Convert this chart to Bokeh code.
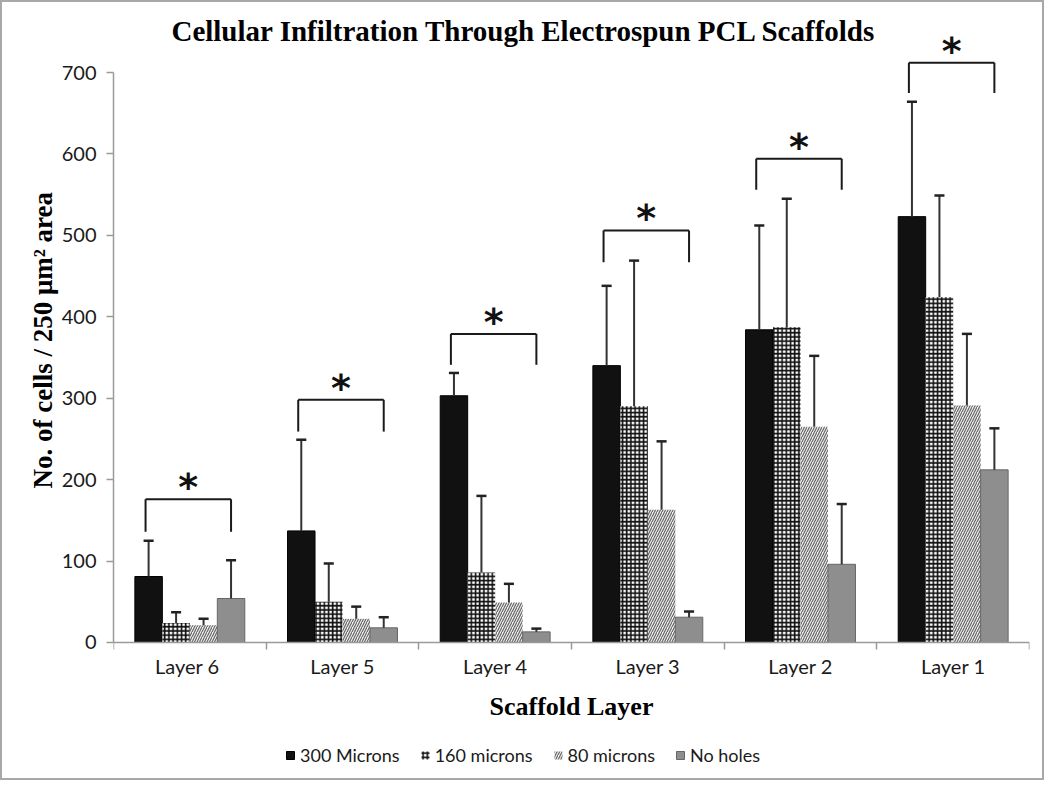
from bokeh.plotting import figure
from bokeh.models import FixedTicker, Legend, LegendItem, ColumnDataSource, Title
from bokeh.core.properties import value
from bokeh.embed import file_html
from bokeh.resources import INLINE

# ---------------- data ----------------
layers = ["Layer  6", "Layer 5", "Layer 4", "Layer 3", "Layer 2", "Layer 1"]
series = ["300 Microns", "160 microns", "80 microns", "No holes"]

mean_300 = [81, 137, 303, 340, 384, 523]
sd_300 = [44, 112, 28, 98, 128, 141]
mean_160 = [24, 50, 86, 290, 387, 424]
sd_160 = [13, 47, 94, 179, 158, 125]
mean_80 = [21, 29, 49, 163, 265, 291]
sd_80 = [8, 15, 23, 84, 87, 88]
mean_nh = [54, 18, 13, 31, 96, 212]
sd_nh = [47, 13, 4, 7, 74, 51]

bracket_top = [176, 298, 379, 506, 594, 712]
bracket_leg = [136, 259, 341, 467, 556, 675]
star_text = ["*", "*", "*", "*", "*", "*"]

y_ticks = [0, 100, 200, 300, 400, 500, 600, 700]

title_text = "Cellular Infiltration Through Electrospun PCL Scaffolds"
y_label = "No. of cells / 250 \u03bcm\u00b2 area"
x_label = "Scaffold Layer"

# ---------------- styles ----------------
offsets = [-0.27, -0.09, 0.09, 0.27]
bar_w = 0.18
styles = [
    dict(fill_color="#111111", line_color="#000000", line_width=1),
    dict(fill_color="white", line_color=None, hatch_pattern="+", hatch_color="#111111",
         hatch_scale=4.2, hatch_weight=1.6),
    dict(fill_color="#efefef", line_color=None, hatch_pattern="/", hatch_color="#666666",
         hatch_scale=5, hatch_weight=1.2),
    dict(fill_color="#8e8e8e", line_color="#666666", line_width=1),
]
means = [mean_300, mean_160, mean_80, mean_nh]
sds = [sd_300, sd_160, sd_80, sd_nh]

p = figure(width=1044, height=780, x_range=(0, 6), y_range=(-172, 786),
           output_backend="svg", toolbar_location=None,
           min_border_left=111, min_border_right=17, min_border_top=0, min_border_bottom=0,
           styles={"border": "2px solid #a8a8a8"})
p.outline_line_color = None
p.xgrid.visible = False
p.ygrid.visible = False
p.background_fill_color = "white"
p.border_fill_color = "white"

centers = [i + 0.5 for i in range(len(layers))]
renderers = []
for k in range(4):
    xs = [c + offsets[k] for c in centers]
    src = ColumnDataSource(dict(x=xs, top=means[k],
                                up=[m + s for m, s in zip(means[k], sds[k])]))
    r = p.vbar(x="x", top="top", bottom=0, width=bar_w, source=src, **styles[k])
    renderers.append(r)
    # error bars (upper only)
    p.segment(x0="x", y0="top", x1="x", y1="up", source=src, line_color="#333333", line_width=2)
    cap_src = ColumnDataSource(dict(x0=[x - 0.033 for x in xs], x1=[x + 0.033 for x in xs],
                                    y=src.data["up"]))
    p.segment(x0="x0", y0="y", x1="x1", y1="y", source=cap_src, line_color="#222222", line_width=2.5)

# significance brackets
bl = [c - 0.29 for c in centers]
br = [c + 0.27 for c in centers]
bsrc = ColumnDataSource(dict(l=bl, r=br, top=bracket_top, leg=bracket_leg,
                             mid=[(a + b) / 2 for a, b in zip(bl, br)],
                             sy=[t + 15 for t in bracket_top], s=star_text))
p.segment(x0="l", y0="top", x1="r", y1="top", source=bsrc, line_color="#1a1a1a", line_width=2)
p.segment(x0="l", y0="top", x1="l", y1="leg", source=bsrc, line_color="#1a1a1a", line_width=2)
p.segment(x0="r", y0="top", x1="r", y1="leg", source=bsrc, line_color="#1a1a1a", line_width=2)
p.text(x="mid", y="sy", text="s", source=bsrc, text_font=value("DejaVu Sans"),
       text_font_style="bold", text_font_size="38px", text_align="center",
       text_baseline="middle", text_color="#111111")

# title drawn inside the frame area
p.text(x=[2.69], y=[751], text=[title_text], text_font=value("Liberation Serif"),
       text_font_style="bold", text_font_size="29px", text_align="center",
       text_baseline="middle", text_color="#000000")

# axes
xa = p.xaxis[0]
xa.fixed_location = 0
xa.ticker = FixedTicker(ticks=centers, minor_ticks=[0, 1, 2, 3, 4, 5, 6])
xa.major_label_overrides = {c: lab for c, lab in zip(centers, layers)}
xa.major_tick_line_color = None
xa.major_tick_out = 0
xa.major_tick_in = 0
xa.minor_tick_out = 7
xa.minor_tick_in = 0
xa.minor_tick_line_color = "#9a9a9a"
xa.minor_tick_line_width = 1.5
xa.axis_line_color = "#9a9a9a"
xa.axis_line_width = 1.5
xa.major_label_text_font = "Lato"
xa.major_label_text_font_size = "20px"
xa.major_label_text_color = "#1a1a1a"
xa.major_label_standoff = 5
xa.axis_label = x_label
xa.axis_label_text_font = "Liberation Serif"
xa.axis_label_text_font_style = "bold"
xa.axis_label_text_font_size = "26px"
xa.axis_label_text_color = "#000000"
xa.axis_label_standoff = 10

ya = p.yaxis[0]
ya.ticker = FixedTicker(ticks=y_ticks, minor_ticks=[])
ya.bounds = (0, 700)
ya.axis_line_color = "#9a9a9a"
ya.axis_line_width = 1.5
ya.major_tick_line_color = "#9a9a9a"
ya.major_tick_line_width = 1.5
ya.major_tick_out = 7
ya.major_tick_in = 0
ya.minor_tick_line_color = None
ya.major_label_text_font = "Lato"
ya.major_label_text_font_size = "20px"
ya.major_label_text_color = "#1a1a1a"
ya.major_label_standoff = 10

# y-axis title as a side-panel title, positioned beside the 0-700 span
ytitle = Title(text=y_label, align="left", offset=294, standoff=2,
               text_font="Liberation Serif", text_font_style="bold",
               text_font_size="27px", text_color="#000000")
p.add_layout(ytitle, "left")

legend = Legend(items=[LegendItem(label=s, renderers=[r]) for s, r in zip(series, renderers)],
                orientation="horizontal", location=(172, 16),
                glyph_width=10, glyph_height=10, spacing=20, label_standoff=5,
                label_text_font="Lato", label_text_font_size="18px", label_text_color="#1a1a1a",
                border_line_color=None, background_fill_alpha=0, padding=0, margin=0)
p.add_layout(legend)

open("out.html", "w").write(file_html(p, INLINE))
